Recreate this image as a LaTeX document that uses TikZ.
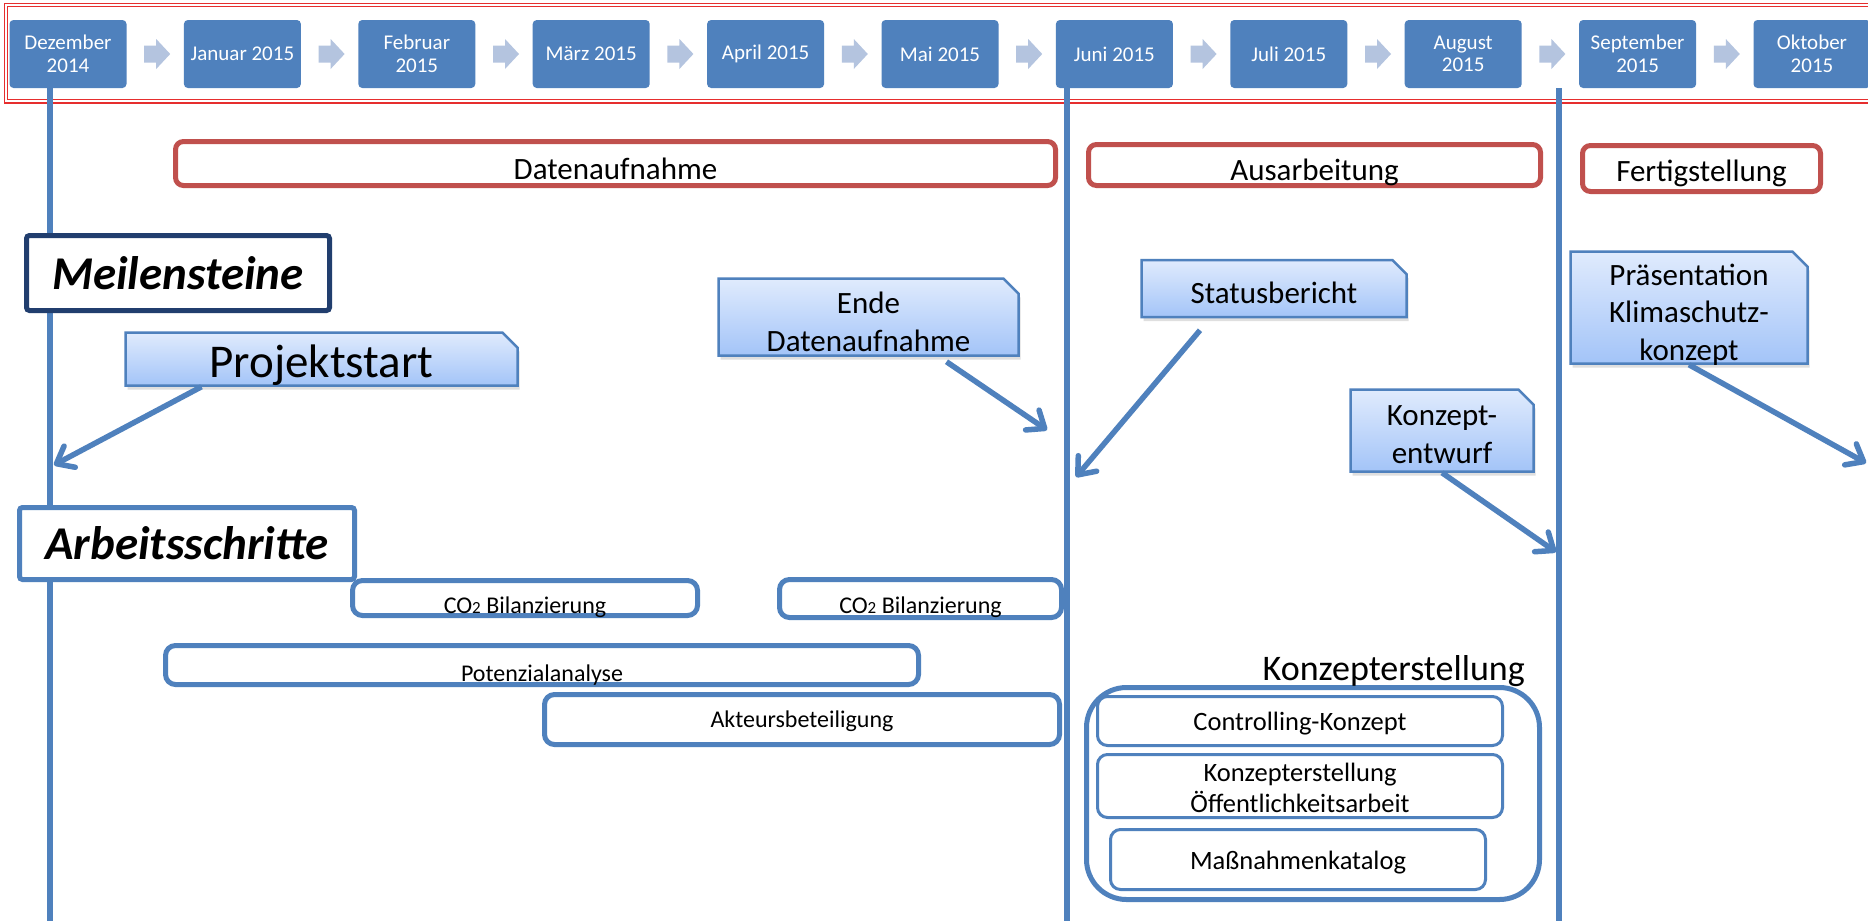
\documentclass[tikz,border=0pt]{standalone}
\usepackage{fontspec}
\setmainfont{Carlito}
\usetikzlibrary{arrows.meta,shapes.misc,shadows}

\definecolor{officeblue}{HTML}{4F81BD}
\definecolor{chevronblue}{HTML}{B4C4DF}
\definecolor{phasered}{HTML}{C0504D}
\definecolor{framered}{HTML}{E62E2E}
\definecolor{navyblue}{HTML}{213E6E}
\definecolor{notetop}{HTML}{E0EBFD}
\definecolor{notebottom}{HTML}{A3C4F8}

\newcommand{\fsz}[2]{\fontsize{#1}{#2}\selectfont}
\newcommand{\lowr}[2][5pt]{\raisebox{-#1}[\height][\depth]{#2}}

\tikzset{
  monthbox/.style={rectangle, rounded corners=4pt, fill=officeblue, text=white,
    minimum width=117pt, minimum height=68pt, inner sep=0pt, align=center,
    font=\fsz{21}{22.5}},
  phasebox/.style={rectangle, rounded corners=8pt, draw=phasered, line width=5pt,
    inner sep=0pt, font=\fsz{31}{38}},
  headbox/.style={rectangle, rounded corners=3pt, fill=white, line width=5pt,
    inner sep=0pt, font=\fsz{47}{56}\bfseries\itshape},
  notebox/.style={chamfered rectangle, chamfered rectangle corners=north east,
    chamfered rectangle xsep=12pt,
    draw=officeblue, line width=2.5pt, top color=notetop, bottom color=notebottom,
    drop shadow={shadow xshift=2pt, shadow yshift=-4pt, opacity=0.25},
    inner sep=0pt, align=center, font=\fsz{31}{37.5}},
  stepbox/.style={rectangle, rounded corners=10pt, draw=officeblue, line width=5pt,
    fill=white, inner sep=0pt, font=\fsz{24}{29}},
  subbox/.style={rectangle, rounded corners=10pt, draw=officeblue, line width=3pt,
    inner sep=0pt, align=center, font=\fsz{26.5}{31}},
  timeline/.style={officeblue, line width=6.5pt},
  msarrow/.style={officeblue, line width=5.5pt,
    -{Straight Barb[length=15pt,width=24pt,round]}},
}

\begin{document}
\begin{tikzpicture}[x=1pt,y=-1pt]
\useasboundingbox (0,0) rectangle (1868,921);
\fill[white] (0,0) rectangle (1868,921);

% Drawing frame round the months
\draw[framered, double=white, double distance=1.8pt, line width=1.3pt]
  (1880,5) -- (6,5) -- (6,101.3) -- (1880,101.3);

% Drawing month boxes
\foreach \lbl [count=\i from 0] in {{Dezember\\2014},{Januar 2015},{Februar\\2015},
    {März 2015},{April 2015},{Mai 2015},{Juni 2015},{Juli 2015},{August\\2015},
    {September\\2015},{Oktober\\2015}}
  \node[monthbox] (m\i) at (68+174.4*\i,54) {\lbl};

% Drawing chevrons between months
\foreach \i in {0,...,9}
  \fill[chevronblue, shift={(m\i.east)}] (17.5,-8.5) -- (29.5,-8.5) -- (29.5,-15)
    -- (43.5,0) -- (29.5,15) -- (29.5,8.5) -- (17.5,8.5) -- cycle;

% Drawing time lines
\draw[timeline] (50,88) -- (50,921);
\draw[timeline] (1067,88) -- (1067,921);
\draw[timeline] (1559,88) -- (1559,921);

% Drawing phases
\node[phasebox, minimum width=880pt, minimum height=44pt] (daten) at (615.5,163.5) {\lowr{Datenaufnahme}};
\node[phasebox, minimum width=452pt, minimum height=41pt] (ausarb) at (1314.5,165) {\lowr[7pt]{Ausarbeitung}};
\node[phasebox, minimum width=238pt, minimum height=46pt] (fertig) at (1701.5,168.5) {\lowr{Fertigstellung}};

% Drawing headings
\node[headbox, draw=navyblue, minimum width=303pt, minimum height=75pt] (meil) at (178,273) {Meilensteine};
\node[headbox, draw=officeblue, minimum width=335pt, minimum height=72pt] (arbeit) at (187,543.5) {Arbeitsschritte};

% Marking milestones
\node[notebox, minimum width=392pt, minimum height=53pt, font=\fsz{47}{56}] (proj) at (321.5,359) {\lowr[6pt]{Projektstart}};
\node[notebox, minimum width=300pt, minimum height=77pt] (ende) at (868.5,317) {\lowr{Ende}\\\lowr{Datenaufnahme}};
\node[notebox, minimum width=265pt, minimum height=57pt] (stat) at (1274,288.5) {\lowr[4pt]{Statusbericht}};
\node[notebox, minimum width=183pt, minimum height=82pt] (entw) at (1442,430.5) {\lowr[4pt]{Konzept-}\\\lowr[4pt]{entwurf}};
\node[notebox, minimum width=237pt, minimum height=112pt] (praes) at (1689,307.5) {\lowr[7pt]{Präsentation}\\\lowr[7pt]{Klimaschutz-}\\\lowr[7pt]{konzept}};

% Drawing milestone arrows
\coordinate (projtip) at (54,465);
\coordinate (endetip) at (1047,430);
\coordinate (stattip) at (1076,477);
\coordinate (entwtip) at (1556,552);
\coordinate (praestip) at (1866,463);
\draw[msarrow] ([xshift=-120pt]proj.south) -- (projtip);
\draw[msarrow] ([xshift=78pt,yshift=-5pt]ende.south) -- (endetip);
\draw[msarrow] ([xshift=-74pt,yshift=-12pt]stat.south) -- (stattip);
\draw[msarrow] (entw.south) -- (entwtip);
\draw[msarrow] (praes.south) -- (praestip);

% Drawing work steps
\node[stepbox, minimum width=345pt, minimum height=35pt, text height=32.5pt, text depth=2.5pt] (co2a) at (525,598) {CO{\fsz{17}{17}2} Bilanzierung};
\node[stepbox, minimum width=282pt, minimum height=38pt, text height=33.5pt, text depth=4.5pt] (co2b) at (920.5,598.5) {CO{\fsz{17}{17}2} Bilanzierung};
\node[stepbox, minimum width=753pt, minimum height=39pt, text height=35.5pt, text depth=3.5pt] (pot) at (542,665) {Potenzialanalyse};
\node[stepbox, minimum width=515pt, minimum height=50pt] (akteur) at (802,719.5) {\lowr[2pt]{Akteursbeteiligung}};

% Drawing group Konzepterstellung
\node[stepbox, rounded corners=40pt, minimum width=453pt, minimum height=212pt] (grp) at (1313,793.5) {};
\node[anchor=base east, inner sep=0pt, font=\fsz{36}{43}] (grplbl) at (1525,680) {Konzepterstellung};
\node[subbox, minimum width=405pt, minimum height=49pt] (ctrl) at (1300,721) {\lowr[3pt]{Controlling-Konzept}};
\node[subbox, minimum width=405pt, minimum height=63pt] (oeff) at (1300,786) {\lowr[2pt]{Konzepterstellung}\\\lowr[2pt]{Öffentlichkeitsarbeit}};
\node[subbox, minimum width=375pt, minimum height=60pt] (mass) at (1298,859.5) {\lowr[3pt]{Maßnahmenkatalog}};
\end{tikzpicture}
\end{document}
